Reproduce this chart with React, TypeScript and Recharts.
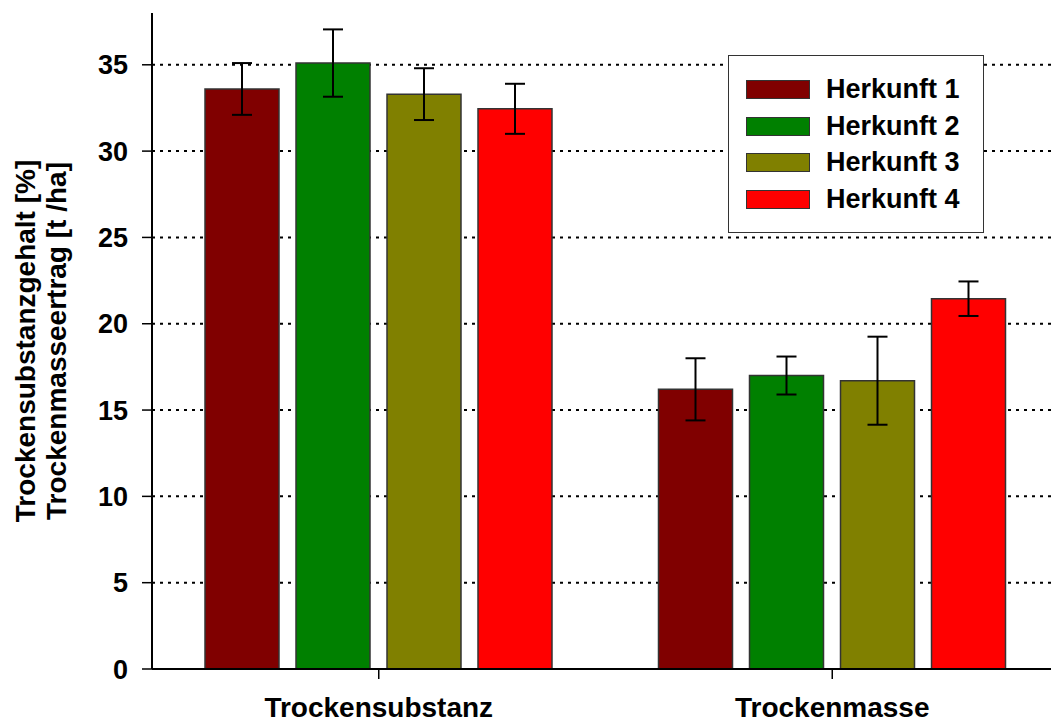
import React from 'react';
import { BarChart, Bar, XAxis, YAxis, CartesianGrid, ErrorBar, Legend } from 'recharts';

const FONT = '"Liberation Sans", Arial, Helvetica, sans-serif';

// categories on the x axis
const categories = ['Trockensubstanz', 'Trockenmasse'];

// mean values per Herkunft
const herkunft1 = [33.6, 16.2];
const herkunft2 = [35.1, 17.0];
const herkunft3 = [33.3, 16.7];
const herkunft4 = [32.45, 21.45];

// error (+/-) per Herkunft
const herkunft1Err = [1.5, 1.8];
const herkunft2Err = [1.95, 1.1];
const herkunft3Err = [1.5, 2.55];
const herkunft4Err = [1.45, 1.0];

const seriesNames = ['Herkunft 1', 'Herkunft 2', 'Herkunft 3', 'Herkunft 4'];
const seriesColors = ['#800000', '#008000', '#808000', '#ff0000'];
const yTicks = [0, 5, 10, 15, 20, 25, 30, 35];

const values = [herkunft1, herkunft2, herkunft3, herkunft4];
const errors = [herkunft1Err, herkunft2Err, herkunft3Err, herkunft4Err];

const data = categories.map((cat, i) => {
    const row: Record<string, any> = { cat };
    values.forEach((v, s) => {
        row[`h${s}`] = v[i];
        row[`e${s}`] = errors[s][i];
    });
    return row;
});

function YLabel(props: any) {
    const vb = props.viewBox || {};
    const cy = vb.y != null && vb.height != null ? vb.y + vb.height / 2 : 333;
    const style = { fontFamily: FONT, fontSize: 28, fontWeight: 'bold' as const, fill: '#000' };
    return (
        <g>
            <text transform={`translate(27, ${cy}) rotate(-90)`} textAnchor="middle" style={style}>
                Trockensubstanzgehalt [%]
            </text>
            <text transform={`translate(58, ${cy}) rotate(-90)`} textAnchor="middle" style={style}>
                Trockenmasseertrag [t /ha]
            </text>
        </g>
    );
}

function LegendBox() {
    return (
        <div
            style={{
                border: '1.5px solid #333',
                background: '#fff',
                width: 256,
                padding: '15px 0 14px 17px',
                boxSizing: 'border-box',
                fontFamily: FONT,
            }}
        >
            {seriesNames.map((name, i) => (
                <div key={name} style={{ display: 'flex', alignItems: 'center', height: 36.7 }}>
                    <div
                        style={{
                            width: 64,
                            height: 19,
                            background: seriesColors[i],
                            border: '1.5px solid #333',
                            boxSizing: 'border-box',
                        }}
                    />
                    <span style={{ marginLeft: 16, fontSize: 27, fontWeight: 'bold', color: '#000' }}>{name}</span>
                </div>
            ))}
        </div>
    );
}

export default function App() {
    return (
        <div style={{ width: 1051, height: 714 }}>
            <BarChart
                width={1051}
                height={714}
                data={data}
                margin={{ top: 5, right: 0, bottom: 0, left: 0 }}
                barSize={74}
                barGap={17}
            >
                <CartesianGrid
                    vertical={false}
                    horizontalValues={yTicks.slice(1)}
                    stroke="#000"
                    strokeWidth={2}
                    strokeDasharray="3 5"
                />
                <XAxis
                    dataKey="cat"
                    height={53}
                    axisLine={{ stroke: '#000', strokeWidth: 2 }}
                    tickLine={{ stroke: '#000', strokeWidth: 1.5 }}
                    tickSize={10}
                    tickMargin={18}
                    tick={{ fill: '#000', fontSize: 28, fontWeight: 'bold', fontFamily: FONT }}
                />
                <YAxis
                    type="number"
                    domain={[0, 38]}
                    ticks={yTicks}
                    width={144}
                    allowDataOverflow
                    axisLine={{ stroke: '#000', strokeWidth: 2 }}
                    tickLine={{ stroke: '#000', strokeWidth: 1.5 }}
                    tickSize={10}
                    tickMargin={14}
                    tick={{ fill: '#000', fontSize: 27, fontWeight: 'bold', fontFamily: FONT }}
                    label={<YLabel />}
                />
                <Legend
                    layout="vertical"
                    align="center"
                    verticalAlign="middle"
                    content={() => <LegendBox />}
                    wrapperStyle={{ position: 'absolute', left: 720, top: 47, width: 'auto', height: 'auto' }}
                />
                {seriesNames.map((name, s) => (
                    <Bar
                        key={name}
                        dataKey={`h${s}`}
                        name={name}
                        fill={seriesColors[s]}
                        stroke="#333"
                        strokeWidth={1.5}
                        isAnimationActive={false}
                    >
                        <ErrorBar
                            dataKey={`e${s}`}
                            width={10}
                            stroke="#000"
                            strokeWidth={2}
                            isAnimationActive={false}
                        />
                    </Bar>
                ))}
            </BarChart>
        </div>
    );
}
